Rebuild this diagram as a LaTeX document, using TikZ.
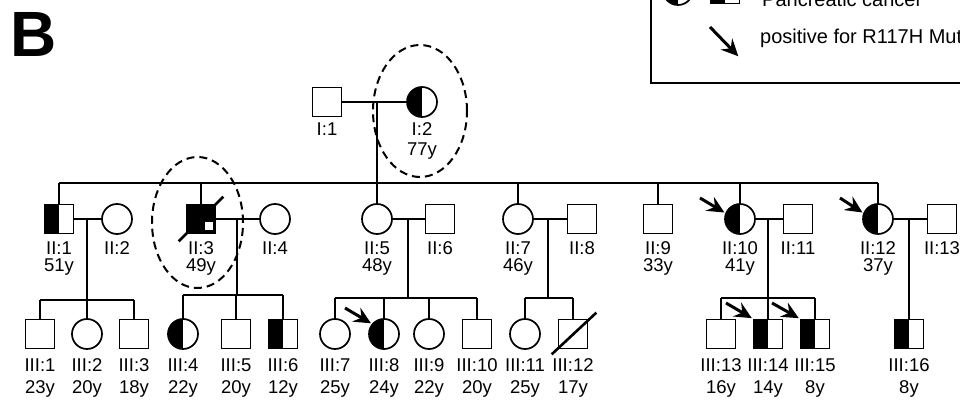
\documentclass[tikz,border=0pt]{standalone}
\usepackage{fontspec}
\setmainfont{Liberation Sans}
\usetikzlibrary{arrows.meta}
\tikzset{
  sq-n/.style={draw,rectangle,minimum size=29pt,inner sep=0pt,line width=1.7pt},
  ci-n/.style={draw,circle,minimum size=30pt,inner sep=0pt,line width=1.7pt},
  half-fill/.style={path picture={\fill[black] (path picture bounding box.south west) rectangle (path picture bounding box.north);}},
  sq-a/.style={sq-n,half-fill},
  ci-a/.style={ci-n,half-fill},
  sq-x/.style={sq-n,fill=black,path picture={\fill[white] ([shift={(-11pt,3pt)}]path picture bounding box.south east) rectangle ([shift={(-3pt,11pt)}]path picture bounding box.south east);}},
  lbl/.style={font=\fontsize{18.5}{#1}\selectfont,align=center,inner sep=0pt},
  mate/.style={line width=1.8pt},
  kin/.style={line width=1.8pt},
  dead/.style={line width=2.6pt},
  mut/.style={-{Stealth[length=17pt,width=16pt,inset=6pt]},line width=3pt,shorten >=1pt},
  ring/.style={line width=2pt,dash pattern=on 8pt off 5pt},
  legendbox/.style={line width=2.6pt},
  legendtxt/.style={font=\fontsize{20}{20}\selectfont,inner sep=0pt,anchor=base west},
}

\begin{document}
\begin{tikzpicture}[x=1pt,y=-1pt]
  \useasboundingbox (0,0) rectangle (960,403);
  \clip (0,0) rectangle (960,403);

  \node[font=\fontsize{64}{64}\selectfont\bfseries,inner sep=0pt,anchor=base west] (fig) at (10,57) {B};

  % legend (cut by the frame)
  \draw[legendbox] (651,83) rectangle (1010,-60);
  \node[ci-a] (lg-c) at (678,-10) {};
  \node[sq-a] (lg-s) at (725,-11) {};
  \node[legendtxt] (lg-t1) at (762,7) {Pancreatic cancer};
  \coordinate (lg-a1) at (710,27);
  \coordinate (lg-a2) at (739,57);
  \draw[mut] (lg-a1) -- (lg-a2);
  \node[legendtxt] (lg-t2) at (760,44) {positive for R117H Mutation};

  % GENERATION I
  \node[sq-n,label={[lbl=20,label distance=5pt]below:{I:1}}] (p11) at (327,102) {};
  \node[ci-a,label={[lbl=20,label distance=5pt]below:{I:2\\77y}}] (p12) at (422,102) {};
  \draw[mate] (p11) -- (p12);
  \draw[ring] (420,111) ellipse [x radius=47pt,y radius=66pt];

  % GENERATION II
  \node[sq-a,label={[lbl=17,label distance=7pt]below:{II:1\\51y}}]  (p21)  at (59,219)  {};
  \node[ci-n,label={[lbl=17,label distance=7pt]below:{II:2}}]       (p22)  at (117,219) {};
  \node[sq-x,label={[lbl=17,label distance=7pt]below:{II:3\\49y}}]  (p23)  at (201,219) {};
  \node[ci-n,label={[lbl=17,label distance=7pt]below:{II:4}}]       (p24)  at (275,219) {};
  \node[ci-n,label={[lbl=17,label distance=7pt]below:{II:5\\48y}}]  (p25)  at (377,219) {};
  \node[sq-n,label={[lbl=17,label distance=7pt]below:{II:6}}]       (p26)  at (440,219) {};
  \node[ci-n,label={[lbl=17,label distance=7pt]below:{II:7\\46y}}]  (p27)  at (518,219) {};
  \node[sq-n,label={[lbl=17,label distance=7pt]below:{II:8}}]       (p28)  at (582,219) {};
  \node[sq-n,label={[lbl=17,label distance=7pt]below:{II:9\\33y}}]  (p29)  at (658,219) {};
  \node[ci-a,label={[lbl=17,label distance=7pt]below:{II:10\\41y}}] (p210) at (740,219) {};
  \node[sq-n,label={[lbl=17,label distance=7pt]below:{II:11}}]      (p211) at (798,219) {};
  \node[ci-a,label={[lbl=17,label distance=7pt]below:{II:12\\37y}}] (p212) at (878,219) {};
  \node[sq-n,label={[lbl=17,label distance=7pt]below:{II:13}}]      (p213) at (942,219) {};
  \draw[dead] ([shift={(-7pt,-7pt)}]p23.south west) -- ([shift={(7pt,7pt)}]p23.north east);
  \draw[ring] (197.5,222.5) ellipse [x radius=45.5pt,y radius=65.5pt];

  \coordinate (m1) at (377,102);
  \coordinate (s1) at (377,183);
  \draw[kin] (m1) -- (p25);
  \draw[kin] (p21 |- s1) -- (p212 |- s1);
  \draw[kin] (p21 |- s1) -- (p21);
  \draw[kin] (p23 |- s1) -- (p23);
  \draw[kin] (p27 |- s1) -- (p27);
  \draw[kin] (p29 |- s1) -- (p29);
  \draw[kin] (p210 |- s1) -- (p210);
  \draw[kin] (p212 |- s1) -- (p212);
  \draw[mate] (p21) -- (p22);
  \draw[mate] (p23) -- (p24);
  \draw[mate] (p25) -- (p26);
  \draw[mate] (p27) -- (p28);
  \draw[mate] (p210) -- (p211);
  \draw[mate] (p212) -- (p213);

  % GENERATION III
  \node[sq-n,label={[lbl=22,label distance=9pt]below:{III:1\\23y}}]  (p31)  at (40,334)  {};
  \node[ci-n,label={[lbl=22,label distance=9pt]below:{III:2\\20y}}]  (p32)  at (87,334)  {};
  \node[sq-n,label={[lbl=22,label distance=9pt]below:{III:3\\18y}}]  (p33)  at (134,334) {};
  \node[ci-a,label={[lbl=22,label distance=9pt]below:{III:4\\22y}}]  (p34)  at (183,334) {};
  \node[sq-n,label={[lbl=22,label distance=9pt]below:{III:5\\20y}}]  (p35)  at (236,334) {};
  \node[sq-a,label={[lbl=22,label distance=9pt]below:{III:6\\12y}}]  (p36)  at (283,334) {};
  \node[ci-n,label={[lbl=22,label distance=9pt]below:{III:7\\25y}}]  (p37)  at (335,334) {};
  \node[ci-a,label={[lbl=22,label distance=9pt]below:{III:8\\24y}}]  (p38)  at (384,334) {};
  \node[ci-n,label={[lbl=22,label distance=9pt]below:{III:9\\22y}}]  (p39)  at (429,334) {};
  \node[sq-n,label={[lbl=22,label distance=9pt]below:{III:10\\20y}}] (p310) at (477,334) {};
  \node[ci-n,label={[lbl=22,label distance=9pt]below:{III:11\\25y}}] (p311) at (525,334) {};
  \node[sq-n,label={[lbl=22,label distance=9pt]below:{III:12\\17y}}] (p312) at (573,334) {};
  \node[sq-n,label={[lbl=22,label distance=9pt]below:{III:13\\16y}}] (p313) at (721,334) {};
  \node[sq-a,label={[lbl=22,label distance=9pt]below:{III:14\\14y}}] (p314) at (768,334) {};
  \node[sq-a,label={[lbl=22,label distance=9pt]below:{III:15\\8y}}]  (p315) at (815,334) {};
  \node[sq-a,label={[lbl=22,label distance=9pt]below:{III:16\\8y}}]  (p316) at (909,334) {};
  \draw[dead] ([shift={(-6pt,-5pt)}]p312.south west) -- ([shift={(8pt,6pt)}]p312.north east);

  % families of generation II
  \coordinate (m21) at (87,219);   \coordinate (s21) at (87,300);
  \draw[kin] (m21) -- (s21);
  \draw[kin] (p31 |- s21) -- (p33 |- s21);
  \draw[kin] (p31 |- s21) -- (p31);
  \draw[kin] (p32 |- s21) -- (p32);
  \draw[kin] (p33 |- s21) -- (p33);

  \coordinate (m23) at (237,219);  \coordinate (s23) at (237,295);
  \draw[kin] (m23) -- (s23);
  \draw[kin] (p34 |- s23) -- (p36 |- s23);
  \draw[kin] (p34 |- s23) -- (p34);
  \draw[kin] (p35 |- s23) -- (p35);
  \draw[kin] (p36 |- s23) -- (p36);

  \coordinate (m25) at (408,219);  \coordinate (s25) at (408,298);
  \draw[kin] (m25) -- (s25);
  \draw[kin] (p37 |- s25) -- (p310 |- s25);
  \draw[kin] (p37 |- s25) -- (p37);
  \draw[kin] (p38 |- s25) -- (p38);
  \draw[kin] (p39 |- s25) -- (p39);
  \draw[kin] (p310 |- s25) -- (p310);

  \coordinate (m27) at (548,219);  \coordinate (s27) at (548,298);
  \draw[kin] (m27) -- (s27);
  \draw[kin] (p311 |- s27) -- (p312 |- s27);
  \draw[kin] (p311 |- s27) -- (p311);
  \draw[kin] (p312 |- s27) -- (p312);

  \coordinate (m210) at (768,219); \coordinate (s210) at (768,298);
  \draw[kin] (m210) -- (s210);
  \draw[kin] (p313 |- s210) -- (p315 |- s210);
  \draw[kin] (p313 |- s210) -- (p313);
  \draw[kin] (p314 |- s210) -- (p314);
  \draw[kin] (p315 |- s210) -- (p315);

  \coordinate (m212) at (909,219);
  \draw[kin] (m212) -- (p316);

  % carriers of R117H
  \coordinate (a210) at (700,198);
  \coordinate (a212) at (840,198);
  \coordinate (a38)  at (345,308);
  \coordinate (a314) at (726,303);
  \coordinate (a315) at (772,303);
  \draw[mut] (a210) -- (p210.158);
  \draw[mut] (a212) -- (p212.158);
  \draw[mut] (a38)  -- (p38.140);
  \draw[mut] (a314) -- (p314.north west);
  \draw[mut] (a315) -- (p315.north west);

\end{tikzpicture}
\end{document}
